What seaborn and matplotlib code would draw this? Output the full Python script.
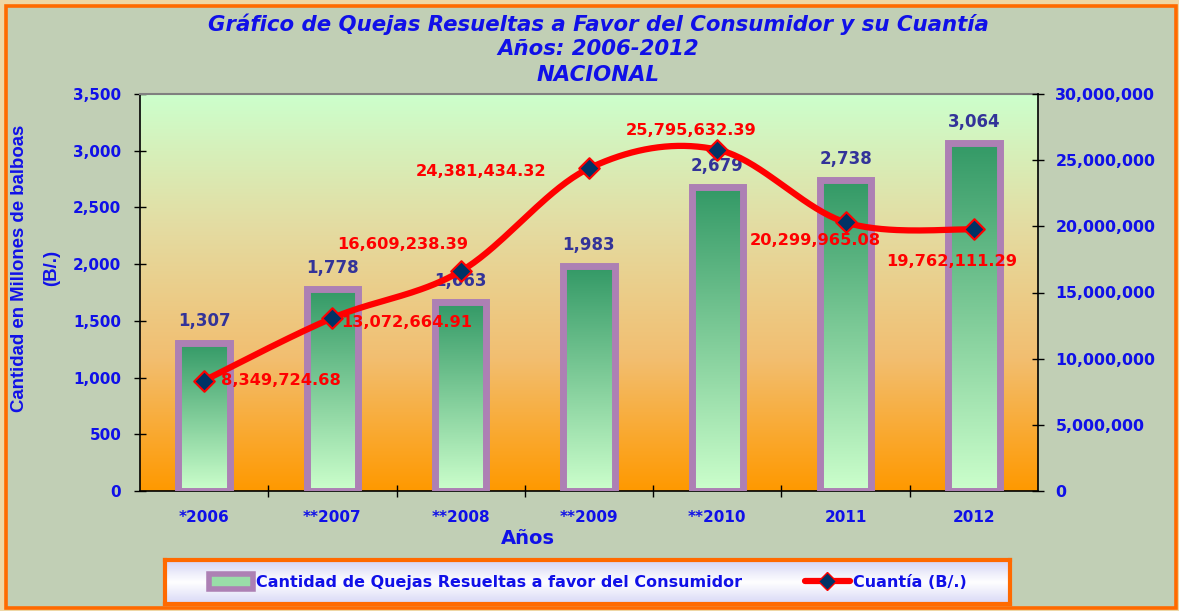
import numpy as np
import pandas as pd
import matplotlib
matplotlib.use('Agg')
import matplotlib.pyplot as plt
import seaborn as sns
from matplotlib.patches import Rectangle, Patch
from matplotlib.lines import Line2D
from matplotlib.colors import LinearSegmentedColormap

# ---------------- data ----------------
years = ['*2006', '**2007', '**2008', '**2009', '**2010', '2011', '2012']
quejas = [1307, 1778, 1663, 1983, 2679, 2738, 3064]
cuantia = [8349724.68, 13072664.91, 16609238.39, 24381434.32,
           25795632.39, 20299965.08, 19762111.29]
left_ticks = [0, 500, 1000, 1500, 2000, 2500, 3000, 3500]
right_ticks = [0, 5000000, 10000000, 15000000, 20000000, 25000000, 30000000]
title_lines = ['Gráfico de Quejas Resueltas a Favor del Consumidor y su Cuantía',
               'Años: 2006-2012', 'NACIONAL']
xlabel = 'Años'
ylabel_lines = ['Cantidad en Millones de balboas', '(B/.)']
legend_labels = ['Cantidad de Quejas Resueltas a favor del Consumidor', 'Cuantía (B/.)']

# label offsets (points) and alignment for the line labels
lab_off = [(12, 0, 'left'), (6, -3, 'left'), (-42, 19, 'center'), (-31, -2, 'right'),
           (-19, 14, 'center'), (-22, -13, 'center'), (-16, -23, 'center')]

W, H = 1179, 611
BLUE = '#1010E8'
RED = '#FF0000'
PURPLE = '#AD80B4'
NAVY = '#003366'
FONT = 'DejaVu Sans'

sns.set_theme(style='white')
plt.rcParams['font.family'] = [FONT]

fig = plt.figure(figsize=(W / 100, H / 100), dpi=100)
fig.patch.set_facecolor('#EED7A6')
fig.patches.append(Rectangle((6 / W, 3 / H), 1170 / W, 602 / H, transform=fig.transFigure,
                             facecolor='#C1CFB5', edgecolor='#FF6A00', linewidth=2.6,
                             zorder=-10))

pos = [140 / W, 1 - 491 / H, 898 / W, 397 / H]

# background gradient
bg = fig.add_axes(pos, zorder=-5)
bg_cmap = LinearSegmentedColormap.from_list('bg', ['#FF9900', '#F2BE70', '#E4DCA2', '#CCFFCC'])
bg.imshow(np.linspace(0, 1, 256)[:, None], cmap=bg_cmap, aspect='auto', origin='lower',
          extent=[0, 1, 0, 1])
bg.set_axis_off()

ax = fig.add_axes(pos)
ax.set_facecolor('none')

df = pd.DataFrame({'year': years, 'quejas': quejas, 'cuantia': cuantia})
sns.barplot(data=df, x='year', y='quejas', ax=ax, width=0.40, color=PURPLE, saturation=1)

bar_cmap = LinearSegmentedColormap.from_list('bar', ['#CCFFCC', '#339966'])
for p in ax.patches:
    x0, w, h = p.get_x(), p.get_width(), p.get_height()
    p.set_facecolor('none')
    p.set_edgecolor(PURPLE)
    p.set_linewidth(5)
    p.set_zorder(3)
    im = ax.imshow(np.linspace(0, 1, 256)[:, None], cmap=bar_cmap, aspect='auto',
                   origin='lower', extent=[x0, x0 + w, 0, h], zorder=2)
    im.set_clip_path(p)
    ax.annotate(f'{h:,.0f}', (x0 + w / 2, h), xytext=(0, 9), textcoords='offset points',
                ha='center', va='bottom', color='#333399', fontsize=12, fontweight='bold')

ax.set_xlim(-0.5, 6.5)
ax.set_ylim(0, 3500)
ax.set_yticks(left_ticks)
ax.set_yticklabels([f'{v:,}' for v in left_ticks])
ax.set_xticks(range(len(years)))
ax.set_xticklabels(years)
ax.set_xticks(np.arange(0.5, 6.5, 1), minor=True)
ax.tick_params(axis='x', which='major', length=0, pad=14, labelsize=11, labelcolor=BLUE)
ax.tick_params(axis='x', which='minor', direction='inout', length=9, width=1, color='black',
               bottom=True)
ax.tick_params(axis='y', direction='inout', length=9, width=1, color='black', left=True,
               pad=9, labelsize=11, labelcolor=BLUE)
for lab in ax.get_xticklabels() + ax.get_yticklabels():
    lab.set_fontweight('bold')
ax.set_xlabel('')
ax.set_ylabel('')
for s in ['left', 'bottom']:
    ax.spines[s].set_color('black')
    ax.spines[s].set_linewidth(1.2)
ax.spines['top'].set_color('#808080')
ax.spines['top'].set_linewidth(1.5)
ax.spines['right'].set_visible(False)
ax.grid(False)

# ---------- line on secondary axis ----------
ax2 = ax.twinx()
ax2.set_ylim(0, 30000000)
xs = np.arange(len(cuantia), dtype=float)
ys = np.asarray(cuantia, dtype=float)


def smooth(xv, yv, n=40):
    pts = np.column_stack([xv, yv])
    out = []
    for i in range(len(pts) - 1):
        p0 = pts[max(i - 1, 0)]
        p1 = pts[i]
        p2 = pts[i + 1]
        p3 = pts[min(i + 2, len(pts) - 1)]
        c1 = p1 + (p2 - p0) / 6
        c2 = p2 - (p3 - p1) / 6
        t = np.linspace(0, 1, n)[:, None]
        seg = (1 - t) ** 3 * p1 + 3 * (1 - t) ** 2 * t * c1 + 3 * (1 - t) * t ** 2 * c2 + t ** 3 * p2
        out.append(seg if i == 0 else seg[1:])
    return np.vstack(out)


curve = smooth(xs, ys)
ax2.plot(curve[:, 0], curve[:, 1], color=RED, linewidth=4.5, solid_capstyle='round', zorder=4)
sns.scatterplot(x=xs, y=ys, ax=ax2, marker='D', s=110, color=NAVY, edgecolor=RED,
                linewidth=1.5, zorder=5)
for xi, yi, (dx, dy, ha) in zip(xs, ys, lab_off):
    ax2.annotate(f'{yi:,.2f}', (xi, yi), xytext=(dx, dy), textcoords='offset points',
                 ha=ha, va='center', color=RED, fontsize=11.7, fontweight='bold', zorder=6)

ax2.set_yticks(right_ticks)
ax2.set_yticklabels([f'{v:,}' for v in right_ticks])
ax2.tick_params(axis='y', direction='inout', length=9, width=1, color='black', right=True,
                pad=8, labelsize=11.3, labelcolor=BLUE)
for lab in ax2.get_yticklabels():
    lab.set_fontweight('bold')
ax2.spines['right'].set_color('black')
ax2.spines['right'].set_linewidth(1.2)
for s in ['left', 'top', 'bottom']:
    ax2.spines[s].set_visible(False)
ax2.set_ylabel('')
ax2.grid(False)
ax2.set_xlim(-0.5, 6.5)

# ---------- titles ----------
title_y = [24, 49, 75]
for t, yy in zip(title_lines, title_y):
    fig.text(598 / W, 1 - yy / H, t, ha='center', va='center', color=BLUE, fontsize=15.3,
             fontweight='bold', fontstyle='italic')
fig.text(528 / W, 1 - 538 / H, xlabel, ha='center', va='center', color=BLUE, fontsize=14,
         fontweight='bold')
fig.text(20 / W, 1 - 268 / H, ylabel_lines[0], ha='center', va='center', rotation=90,
         color=BLUE, fontsize=13.4, fontweight='bold', family='Liberation Sans')
fig.text(52 / W, 1 - 268 / H, ylabel_lines[1], ha='center', va='center', rotation=90,
         color=BLUE, fontsize=13.4, fontweight='bold', family='Liberation Sans')

# ---------- legend box ----------
lax = fig.add_axes([165 / W, 1 - 604 / H, 845 / W, 44 / H])
leg_cmap = LinearSegmentedColormap.from_list('leg', ['#D8D8F6', '#FFFFFF', '#D4D4F4'])
lax.imshow(np.linspace(0, 1, 64)[:, None], cmap=leg_cmap, aspect='auto', origin='lower',
           extent=[0, 1, 0, 1])
lax.set_xlim(0, 1)
lax.set_ylim(0, 1)
lax.set_xticks([])
lax.set_yticks([])
for s in lax.spines.values():
    s.set_color('#FF6A00')
    s.set_linewidth(3)
handles = [Patch(facecolor='#99DDA8', edgecolor=PURPLE, linewidth=4),
           Line2D([0], [0], color=RED, linewidth=4.5, marker='D', markersize=9,
                  markerfacecolor=NAVY, markeredgecolor=RED)]
leg = lax.legend(handles, legend_labels, loc='center', ncol=2, frameon=False,
                 handlelength=2.8, handleheight=1.1, handletextpad=0.2, columnspacing=3.9,
                 prop={'family': FONT, 'weight': 'bold', 'size': 11.5})
for t in leg.get_texts():
    t.set_color(BLUE)

fig.savefig('out.png', dpi=100, facecolor=fig.get_facecolor())
